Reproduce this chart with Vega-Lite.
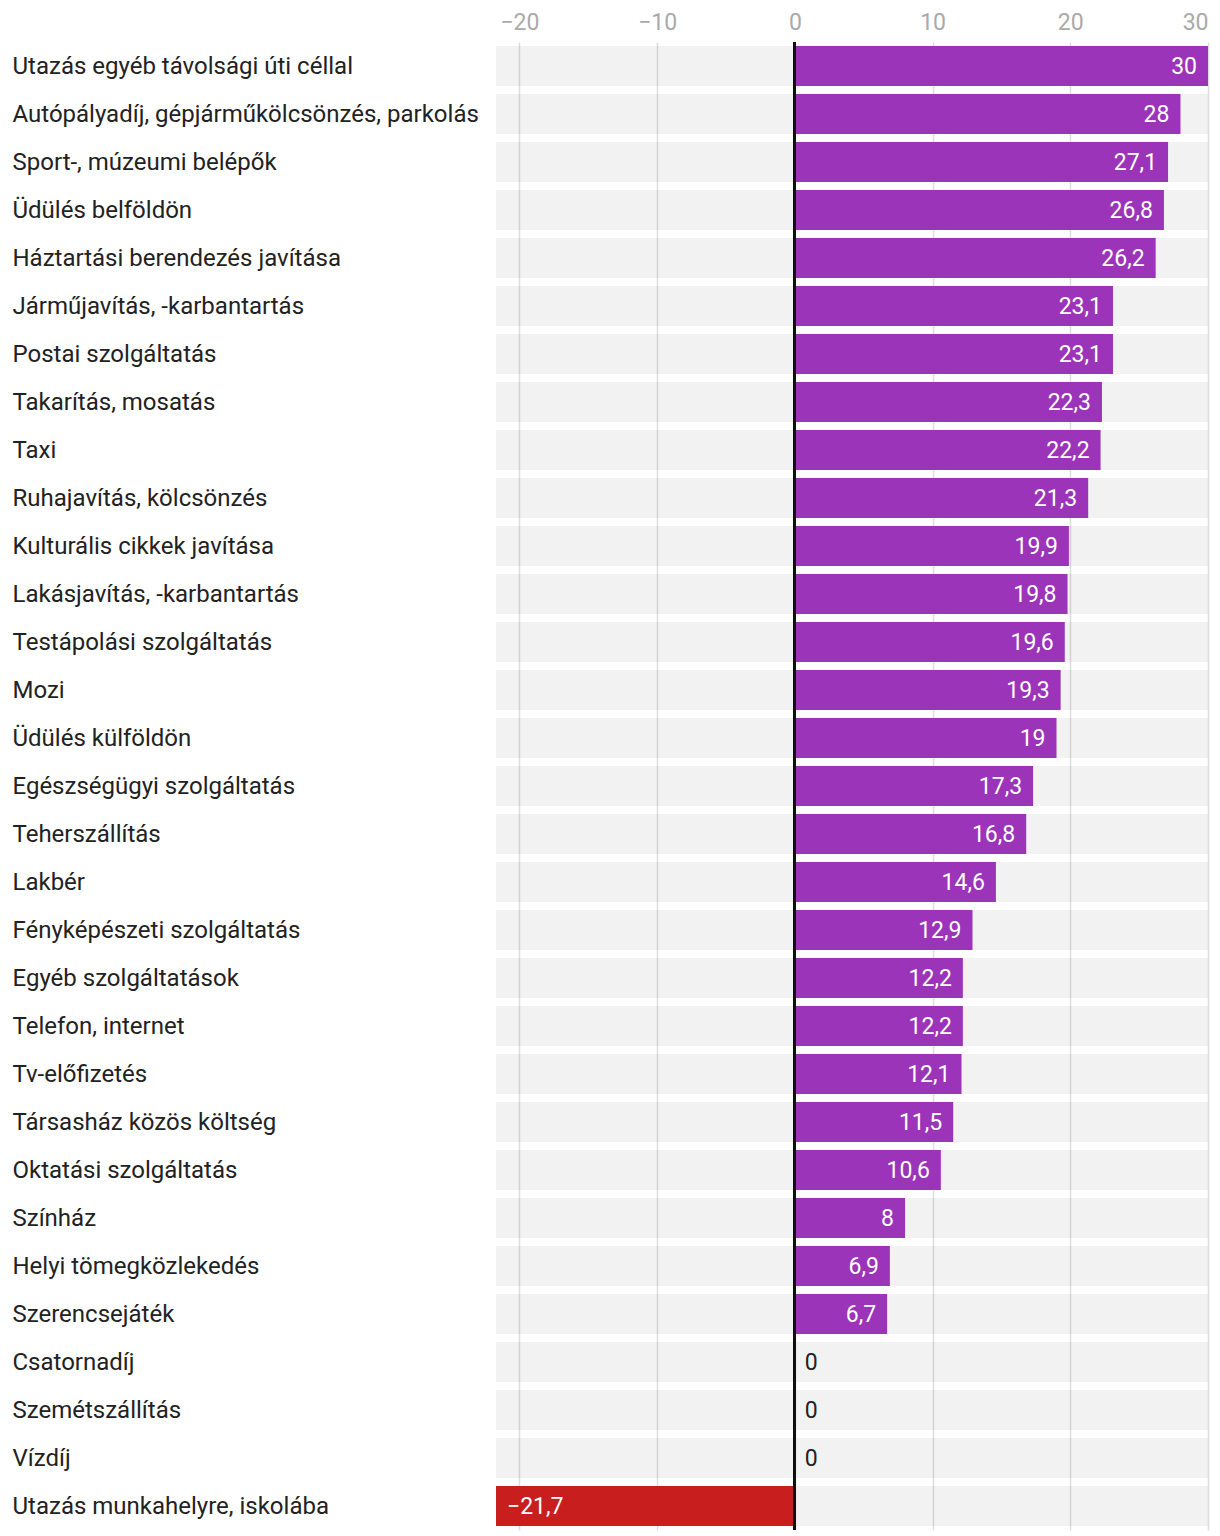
{
  "$schema": "https://vega.github.io/schema/vega-lite/v6.json",
  "autosize": {"type": "none"},
  "padding": {"left": 496, "top": 42, "right": 12, "bottom": 6},
  "width": 712,
  "height": 1488,
  "config": {
    "view": {"stroke": null},
    "font": "Roboto",
    "locale": {"number": {"decimal": ",", "thousands": " ", "grouping": [3], "currency": ["", " Ft"], "minus": "\u2212"}}
  },
  "data": {"values": [
    {"category": "Utazás egyéb távolsági úti céllal", "value": 30},
    {"category": "Autópályadíj, gépjárműkölcsönzés, parkolás", "value": 28},
    {"category": "Sport-, múzeumi belépők", "value": 27.1},
    {"category": "Üdülés belföldön", "value": 26.8},
    {"category": "Háztartási berendezés javítása", "value": 26.2},
    {"category": "Járműjavítás, -karbantartás", "value": 23.1},
    {"category": "Postai szolgáltatás", "value": 23.1},
    {"category": "Takarítás, mosatás", "value": 22.3},
    {"category": "Taxi", "value": 22.2},
    {"category": "Ruhajavítás, kölcsönzés", "value": 21.3},
    {"category": "Kulturális cikkek javítása", "value": 19.9},
    {"category": "Lakásjavítás, -karbantartás", "value": 19.8},
    {"category": "Testápolási szolgáltatás", "value": 19.6},
    {"category": "Mozi", "value": 19.3},
    {"category": "Üdülés külföldön", "value": 19},
    {"category": "Egészségügyi szolgáltatás", "value": 17.3},
    {"category": "Teherszállítás", "value": 16.8},
    {"category": "Lakbér", "value": 14.6},
    {"category": "Fényképészeti szolgáltatás", "value": 12.9},
    {"category": "Egyéb szolgáltatások", "value": 12.2},
    {"category": "Telefon, internet", "value": 12.2},
    {"category": "Tv-előfizetés", "value": 12.1},
    {"category": "Társasház közös költség", "value": 11.5},
    {"category": "Oktatási szolgáltatás", "value": 10.6},
    {"category": "Színház", "value": 8},
    {"category": "Helyi tömegközlekedés", "value": 6.9},
    {"category": "Szerencsejáték", "value": 6.7},
    {"category": "Csatornadíj", "value": 0},
    {"category": "Szemétszállítás", "value": 0},
    {"category": "Vízdíj", "value": 0},
    {"category": "Utazás munkahelyre, iskolába", "value": -21.7}
  ]},
  "encoding": {
    "y": {
      "field": "category", "type": "nominal", "sort": null, "title": null,
      "scale": {"paddingInner": 0.1667, "paddingOuter": 0.0833},
      "axis": {"orient": "left", "domain": false, "ticks": false, "tickSize": 0, "grid": false,
        "labelAlign": "left", "labelPadding": 484, "labelLimit": 484, "labelOffset": 1,
        "labelFontSize": 24, "labelColor": "#222222", "labelFont": "Roboto"}
    }
  },
  "layer": [
    {
      "mark": {"type": "bar", "fill": "#000000", "opacity": 0.05},
      "encoding": {
        "x": {"datum": -21.7, "type": "quantitative",
          "scale": {"domain": [-21.7, 30], "nice": false, "zero": false},
          "axis": {"orient": "top", "values": [-20, -10, 0, 10, 20, 30], "title": null,
            "domain": false, "ticks": false, "grid": true, "gridColor": "#dddddd", "gridWidth": 1.5,
            "labelFontSize": 23, "labelColor": "#aaaaaa", "labelFont": "Roboto", "labelPadding": 8, "labelFlush": true}},
        "x2": {"datum": 30}
      }
    },
    {
      "mark": {"type": "bar"},
      "encoding": {
        "x": {"field": "value", "type": "quantitative"},
        "color": {"condition": {"test": "datum.value < 0", "value": "#c81e1e"}, "value": "#9b34b9"}
      }
    },
    {
      "mark": {"type": "rule", "color": "#111111", "strokeWidth": 2},
      "encoding": {"x": {"datum": 0, "type": "quantitative"}, "y": null}
    },
    {
      "transform": [{"filter": "datum.value > 0"}],
      "mark": {"type": "text", "align": "right", "dx": -11, "dy": 1, "fontSize": 23, "color": "#ffffff", "baseline": "middle"},
      "encoding": {"x": {"field": "value", "type": "quantitative"}, "text": {"field": "value", "type": "quantitative", "format": "~g"}}
    },
    {
      "transform": [{"filter": "datum.value == 0"}],
      "mark": {"type": "text", "align": "left", "dx": 10, "dy": 1, "fontSize": 23, "color": "#222222", "baseline": "middle"},
      "encoding": {"x": {"field": "value", "type": "quantitative"}, "text": {"field": "value", "type": "quantitative", "format": "~g"}}
    },
    {
      "transform": [{"filter": "datum.value < 0"}],
      "mark": {"type": "text", "align": "left", "dx": 11, "dy": 1, "fontSize": 23, "color": "#ffffff", "baseline": "middle"},
      "encoding": {"x": {"field": "value", "type": "quantitative"}, "text": {"field": "value", "type": "quantitative", "format": "~g"}}
    }
  ]
}
